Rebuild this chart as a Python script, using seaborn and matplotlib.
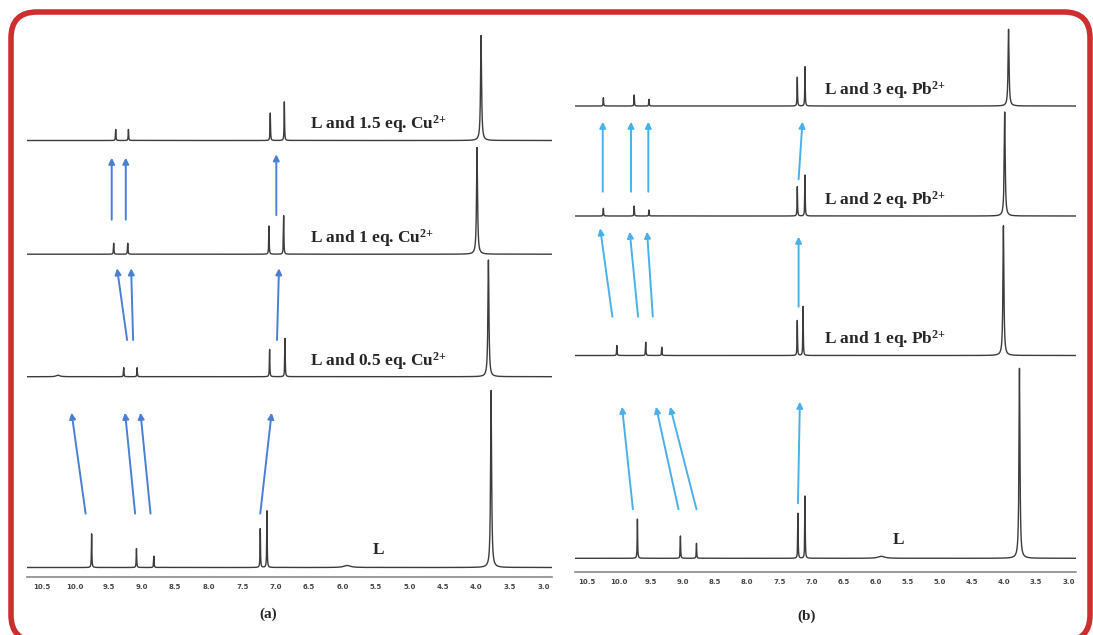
import matplotlib
matplotlib.use('Agg')
import matplotlib.pyplot as plt
from matplotlib.patches import FancyBboxPatch
from matplotlib.ticker import MultipleLocator, FormatStrFormatter
import seaborn as sns
import numpy as np

sns.set_style('white')
plt.rcParams['font.family'] = ['Liberation Serif', 'DejaVu Serif']
plt.rcParams['mathtext.fontset'] = 'custom'
plt.rcParams['mathtext.rm'] = 'Liberation Serif:bold'
plt.rcParams['mathtext.it'] = 'Liberation Serif:bold'
plt.rcParams['mathtext.bf'] = 'Liberation Serif:bold'

W, H = 1093, 635

# ---- panel (a): titration with Cu2+ (bottom -> top) ----
cu_labels = ['L', 'L and 0.5 eq. Cu$^{\\mathbf{2{+}}}$', 'L and 1 eq. Cu$^{\\mathbf{2{+}}}$',
             'L and 1.5 eq. Cu$^{\\mathbf{2{+}}}$']
cu_baseline = [567.5, 376.7, 254.2, 140.5]          # baseline level (px from top)
cu_shifts = [[9.75, 9.08, 8.82, 7.23, 7.13, 5.93, 3.78],
             [10.25, 9.27, 9.07, 7.09, 6.86, 3.82],
             [9.42, 9.21, 7.10, 6.88, 3.99],
             [9.39, 9.20, 7.08, 6.87, 3.93]]
cu_heights = [[33.7, 18.9, 11.4, 38.9, 56.8, 2.0, 177],
              [1.5, 9.0, 9.0, 27.3, 38.3, 116.7],
              [11.0, 11.0, 28.2, 38.6, 106.7],
              [11.0, 11.0, 27.5, 38.6, 105]]
cu_widths = [[0.004, 0.004, 0.004, 0.004, 0.004, 0.06, 0.009],
             [0.03, 0.004, 0.004, 0.004, 0.004, 0.009],
             [0.004, 0.004, 0.004, 0.004, 0.009],
             [0.004, 0.004, 0.004, 0.004, 0.009]]
# arrows: tail ppm, tail y, head ppm, head y
cu_arrows = [(9.84, 513.6, 10.05, 412.7), (9.10, 513.6, 9.25, 412.7),
             (8.87, 513.6, 9.02, 412.7), (7.23, 513.6, 7.06, 412.7),
             (9.22, 340.0, 9.37, 268.3), (9.13, 340.0, 9.16, 268.3),
             (6.98, 340.0, 6.95, 268.3),
             (9.45, 219.7, 9.45, 157.7), (9.24, 219.7, 9.24, 157.7),
             (6.99, 215.2, 6.99, 154.3)]

# ---- panel (b): titration with Pb2+ (bottom -> top) ----
pb_labels = ['L', 'L and 1 eq. Pb$^{\\mathbf{2{+}}}$', 'L and 2 eq. Pb$^{\\mathbf{2{+}}}$',
             'L and 3 eq. Pb$^{\\mathbf{2{+}}}$']
pb_baseline = [558.3, 355.5, 216.0, 106.0]
pb_shifts = [[9.71, 9.04, 8.79, 7.21, 7.10, 5.91, 3.76],
             [10.03, 9.58, 9.33, 7.22, 7.13, 4.01],
             [10.24, 9.76, 9.53, 7.22, 7.10, 3.99],
             [10.24, 9.76, 9.53, 7.22, 7.10, 3.93]]
pb_heights = [[39.3, 22.3, 15.0, 45.0, 62.3, 2.0, 190],
              [10.0, 13.3, 8.3, 35.0, 49.0, 130],
              [7.7, 10.0, 6.0, 29.3, 41.0, 104],
              [8.3, 11.0, 6.7, 28.7, 39.3, 76.7]]
pb_widths = [[0.004, 0.004, 0.004, 0.004, 0.004, 0.06, 0.009],
             [0.004, 0.004, 0.004, 0.004, 0.004, 0.009],
             [0.004, 0.004, 0.004, 0.004, 0.004, 0.009],
             [0.004, 0.004, 0.004, 0.004, 0.004, 0.009]]
pb_arrows = [(9.78, 509.3, 9.95, 406.7), (9.07, 509.3, 9.42, 406.7),
             (8.79, 509.3, 9.20, 406.7), (7.21, 503.3, 7.18, 401.7),
             (10.10, 316.7, 10.29, 228.3), (9.70, 316.7, 9.83, 231.7),
             (9.47, 316.7, 9.56, 231.7), (7.20, 306.7, 7.20, 236.7),
             (10.25, 191.7, 10.25, 121.7), (9.81, 191.7, 9.81, 121.7),
             (9.54, 191.7, 9.54, 121.7), (7.20, 179.3, 7.14, 121.7)]

ticks = np.arange(3.0, 10.51, 0.5)

fig = plt.figure(figsize=(W / 100, H / 100), dpi=100)

# background axes in pixel units, y measured upward (frame, panel letters)
bg = fig.add_axes([0, 0, 1, 1])
bg.set_xlim(0, W)
bg.set_ylim(0, H)
bg.axis('off')
bg.add_patch(FancyBboxPatch((11, H - 641), 1079, 629, boxstyle='round,pad=0,rounding_size=26',
                            fill=False, ec='#cf2e2e', lw=4.0))
bg.text(268.6, H - 614, '(a)', ha='center', va='center', fontsize=11, fontweight='bold')
bg.text(807, H - 616, '(b)', ha='center', va='center', fontsize=11, fontweight='bold')


def panel(x0, x1, ruler, xlim, labels, base, shifts, heights, widths, arrows,
          arrow_color, label_x, L_pos):
    ax = fig.add_axes([x0 / W, (H - ruler) / H, (x1 - x0) / W, ruler / H])
    ax.patch.set_alpha(0)
    grid = np.linspace(xlim[1], xlim[0], 20000)
    for i in range(len(labels)):
        sig = np.zeros_like(grid)
        for d, h, w in zip(shifts[i], heights[i], widths[i]):
            sig += h / (1 + ((grid - d) / w) ** 2)
        sns.lineplot(x=grid, y=base[i] - sig, ax=ax, color='#3c3c3c', lw=1.0,
                     estimator=None, sort=False)
        if i == 0:
            ax.text(L_pos[0], L_pos[1], labels[i], ha='center', va='center',
                    fontsize=12.5, fontweight='bold')
        else:
            ax.text(label_x, base[i] - 16, labels[i], ha='left', va='center',
                    fontsize=12.5, fontweight='bold')
    for tx, ty, hx, hy in arrows:
        ax.annotate('', xy=(hx, hy), xytext=(tx, ty),
                    arrowprops=dict(arrowstyle='-|>', color=arrow_color, lw=1.4,
                                    mutation_scale=9, shrinkA=0, shrinkB=0))
    ax.set_xlim(*xlim)
    ax.set_ylim(ruler, 0)
    ax.set_xlabel('')
    ax.set_ylabel('')
    ax.set_yticks([])
    for s in ['top', 'left', 'right']:
        ax.spines[s].set_visible(False)
    ax.spines['bottom'].set_color('#8a8a8a')
    ax.spines['bottom'].set_linewidth(1.2)
    ax.set_xticks(ticks)
    ax.xaxis.set_major_formatter(FormatStrFormatter('%.1f'))
    ax.xaxis.set_minor_locator(MultipleLocator(0.1))
    ax.tick_params(axis='x', which='major', length=3, width=0.8, color='#777777',
                   labelsize=5, labelcolor='#444444', pad=2)
    ax.tick_params(axis='x', which='minor', length=1.5, width=0.6, color='#999999')
    for t in ax.get_xticklabels():
        t.set_fontweight('bold')
        t.set_family('DejaVu Sans')
    return ax


panel(27, 552, 577, (10.716, 2.87), cu_labels, cu_baseline, cu_shifts, cu_heights,
      cu_widths, cu_arrows, '#4a80d4', 6.48, (5.47, 549.8))
panel(575, 1076, 571.7, (10.682, 2.88), pb_labels, pb_baseline, pb_shifts, pb_heights,
      pb_widths, pb_arrows, '#4ab0ea', 6.81, (5.65, 540))

fig.savefig('out.png', dpi=100)
